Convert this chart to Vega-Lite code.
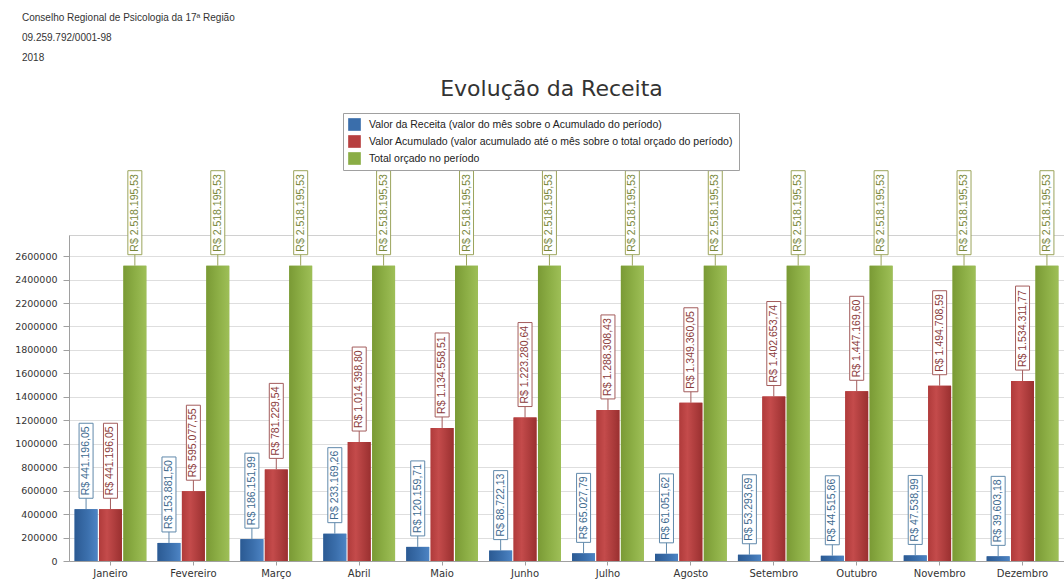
{
  "$schema": "https://vega.github.io/schema/vega-lite/v6.json",
  "autosize": {"type": "none"},
  "width": 995,
  "height": 326,
  "padding": {"left": 69, "top": 235, "right": 0, "bottom": 21},
  "background": "white",
  "config": {
    "locale": {"number": {"decimal": ",", "thousands": ".", "grouping": [3], "currency": ["R$ ", ""]}},
    "view": {"stroke": "#d0d0d0"}
  },
  "title": {
    "text": ["Conselho Regional de Psicologia da 17ª Região", "09.259.792/0001-98", "2018"],
    "anchor": "start",
    "frame": "group",
    "dx": -47,
    "fontSize": 10,
    "fontWeight": "normal",
    "font": "Liberation Sans",
    "color": "#333333",
    "lineHeight": 20,
    "offset": 14
  },
  "data": {
    "values": [
      {"mes": "Janeiro", "serie": "Receita", "valor": 441196.05},
      {"mes": "Janeiro", "serie": "Acumulado", "valor": 441196.05},
      {"mes": "Janeiro", "serie": "Orcado", "valor": 2518195.53},
      {"mes": "Fevereiro", "serie": "Receita", "valor": 153881.50},
      {"mes": "Fevereiro", "serie": "Acumulado", "valor": 595077.55},
      {"mes": "Fevereiro", "serie": "Orcado", "valor": 2518195.53},
      {"mes": "Março", "serie": "Receita", "valor": 186151.99},
      {"mes": "Março", "serie": "Acumulado", "valor": 781229.54},
      {"mes": "Março", "serie": "Orcado", "valor": 2518195.53},
      {"mes": "Abril", "serie": "Receita", "valor": 233169.26},
      {"mes": "Abril", "serie": "Acumulado", "valor": 1014398.80},
      {"mes": "Abril", "serie": "Orcado", "valor": 2518195.53},
      {"mes": "Maio", "serie": "Receita", "valor": 120159.71},
      {"mes": "Maio", "serie": "Acumulado", "valor": 1134558.51},
      {"mes": "Maio", "serie": "Orcado", "valor": 2518195.53},
      {"mes": "Junho", "serie": "Receita", "valor": 88722.13},
      {"mes": "Junho", "serie": "Acumulado", "valor": 1223280.64},
      {"mes": "Junho", "serie": "Orcado", "valor": 2518195.53},
      {"mes": "Julho", "serie": "Receita", "valor": 65027.79},
      {"mes": "Julho", "serie": "Acumulado", "valor": 1288308.43},
      {"mes": "Julho", "serie": "Orcado", "valor": 2518195.53},
      {"mes": "Agosto", "serie": "Receita", "valor": 61051.62},
      {"mes": "Agosto", "serie": "Acumulado", "valor": 1349360.05},
      {"mes": "Agosto", "serie": "Orcado", "valor": 2518195.53},
      {"mes": "Setembro", "serie": "Receita", "valor": 53293.69},
      {"mes": "Setembro", "serie": "Acumulado", "valor": 1402653.74},
      {"mes": "Setembro", "serie": "Orcado", "valor": 2518195.53},
      {"mes": "Outubro", "serie": "Receita", "valor": 44515.86},
      {"mes": "Outubro", "serie": "Acumulado", "valor": 1447169.60},
      {"mes": "Outubro", "serie": "Orcado", "valor": 2518195.53},
      {"mes": "Novembro", "serie": "Receita", "valor": 47538.99},
      {"mes": "Novembro", "serie": "Acumulado", "valor": 1494708.59},
      {"mes": "Novembro", "serie": "Orcado", "valor": 2518195.53},
      {"mes": "Dezembro", "serie": "Receita", "valor": 39603.18},
      {"mes": "Dezembro", "serie": "Acumulado", "valor": 1534311.77},
      {"mes": "Dezembro", "serie": "Orcado", "valor": 2518195.53}
    ]
  },
  "transform": [
    {"calculate": "datum.valor >= 1000000 ? 'L15' : (datum.valor >= 100000 ? 'L13' : 'L12')", "as": "tam"}
  ],
  "encoding": {
    "x": {
      "field": "mes", "type": "nominal", "sort": null,
      "scale": {"paddingInner": 0.135, "paddingOuter": 0.0675},
      "axis": {
        "title": null, "labelAngle": 0, "labelFont": "DejaVu Sans", "labelFontSize": 10,
        "labelColor": "#333333", "tickColor": "#a0a0a0", "domainColor": "#a0a0a0",
        "tickSize": 4, "labelPadding": 3
      }
    },
    "xOffset": {
      "field": "serie", "type": "nominal",
      "scale": {"domain": ["Receita", "Acumulado", "Orcado"], "paddingInner": 0.06, "paddingOuter": 0}
    },
    "y": {
      "field": "valor", "type": "quantitative",
      "scale": {"domain": [0, 2780000], "nice": false, "zero": true},
      "axis": {
        "values": [0, 200000, 400000, 600000, 800000, 1000000, 1200000, 1400000, 1600000, 1800000, 2000000, 2200000, 2400000, 2600000],
        "format": "d",
        "title": "Evolução da Receita",
        "titleAngle": 0, "titleX": 482, "titleY": -147, "titleAlign": "center", "titleBaseline": "middle",
        "titleFontSize": 22, "titleFont": "DejaVu Sans", "titleFontWeight": "normal", "titleColor": "#333333",
        "labelFont": "DejaVu Sans", "labelFontSize": 9.5, "labelColor": "#333333",
        "tickColor": "#a0a0a0", "tickSize": 6, "domainColor": "#a0a0a0",
        "gridColor": "#dedede", "labelPadding": 6
      }
    }
  },
  "layer": [
    {
      "mark": {"type": "bar"},
      "encoding": {
        "color": {
          "field": "serie", "type": "nominal",
          "scale": {"domain": ["Receita", "Acumulado", "Orcado"], "range": ["#3a6eab", "#b73f3f", "#8aad45"]},
          "legend": {
            "title": null, "orient": "none", "legendX": 274, "legendY": -122, "direction": "vertical",
            "symbolType": "square", "symbolSize": 160, "symbolStrokeWidth": 0,
            "labelFont": "Liberation Sans", "labelFontSize": 10.5, "labelColor": "#222222", "labelLimit": 600,
            "labelOffset": 8, "rowPadding": 4, "padding": 5, "strokeColor": "#a0a0a0", "fillColor": "white",
            "labelExpr": "datum.label == 'Receita' ? 'Valor da Receita (valor do mês sobre o Acumulado do período)' : (datum.label == 'Acumulado' ? 'Valor Acumulado (valor acumulado até o mês sobre o total orçado do período)' : 'Total orçado no período')"
          }
        }
      }
    },
    {
      "transform": [{"filter": "datum.serie == 'Receita'"}],
      "mark": {"type": "bar", "fill": {"gradient": "linear", "x1": 0, "x2": 1, "y1": 0, "y2": 0,
        "stops": [{"offset": 0, "color": "#2b5a93"}, {"offset": 0.55, "color": "#3b6fac"}, {"offset": 1, "color": "#4d84c4"}]}}
    },
    {
      "transform": [{"filter": "datum.serie == 'Acumulado'"}],
      "mark": {"type": "bar", "fill": {"gradient": "linear", "x1": 0, "x2": 1, "y1": 0, "y2": 0,
        "stops": [{"offset": 0, "color": "#b03b3b"}, {"offset": 0.35, "color": "#c44b4b"}, {"offset": 1, "color": "#9a3030"}]}}
    },
    {
      "transform": [{"filter": "datum.serie == 'Orcado'"}],
      "mark": {"type": "bar", "fill": {"gradient": "linear", "x1": 0, "x2": 1, "y1": 0, "y2": 0,
        "stops": [{"offset": 0, "color": "#7a9a35"}, {"offset": 0.5, "color": "#8cae45"}, {"offset": 1, "color": "#9ebf57"}]}}
    },
    {
      "mark": {"type": "point", "filled": true, "fill": "white", "fillOpacity": 1, "opacity": 1, "strokeWidth": 1, "size": 4, "clip": false},
      "encoding": {
        "shape": {
          "field": "tam", "type": "nominal", "legend": null,
          "scale": {"domain": ["L12", "L13", "L15"], "range": ["M0,0V-11M-7,-11H7V-80H-7Z", "M0,0V-11M-7,-11H7V-86H-7Z", "M0,0V-11M-7,-11H7V-95H-7Z"]}
        },
        "stroke": {
          "field": "serie", "type": "nominal", "legend": null,
          "scale": {"domain": ["Receita", "Acumulado", "Orcado"], "range": ["#6089ab", "#a35c5c", "#9ba45c"]}
        }
      }
    },
    {
      "mark": {"type": "text", "angle": 270, "align": "left", "baseline": "middle", "dx": 14, "font": "Liberation Sans", "fontSize": 10.5, "clip": false},
      "encoding": {
        "text": {"field": "valor", "type": "quantitative", "format": "$,.2f"},
        "fill": {
          "field": "serie", "type": "nominal", "legend": null,
          "scale": {"domain": ["Receita", "Acumulado", "Orcado"], "range": ["#3d6a8f", "#8b3b3b", "#78873a"]}
        }
      }
    }
  ]
}
